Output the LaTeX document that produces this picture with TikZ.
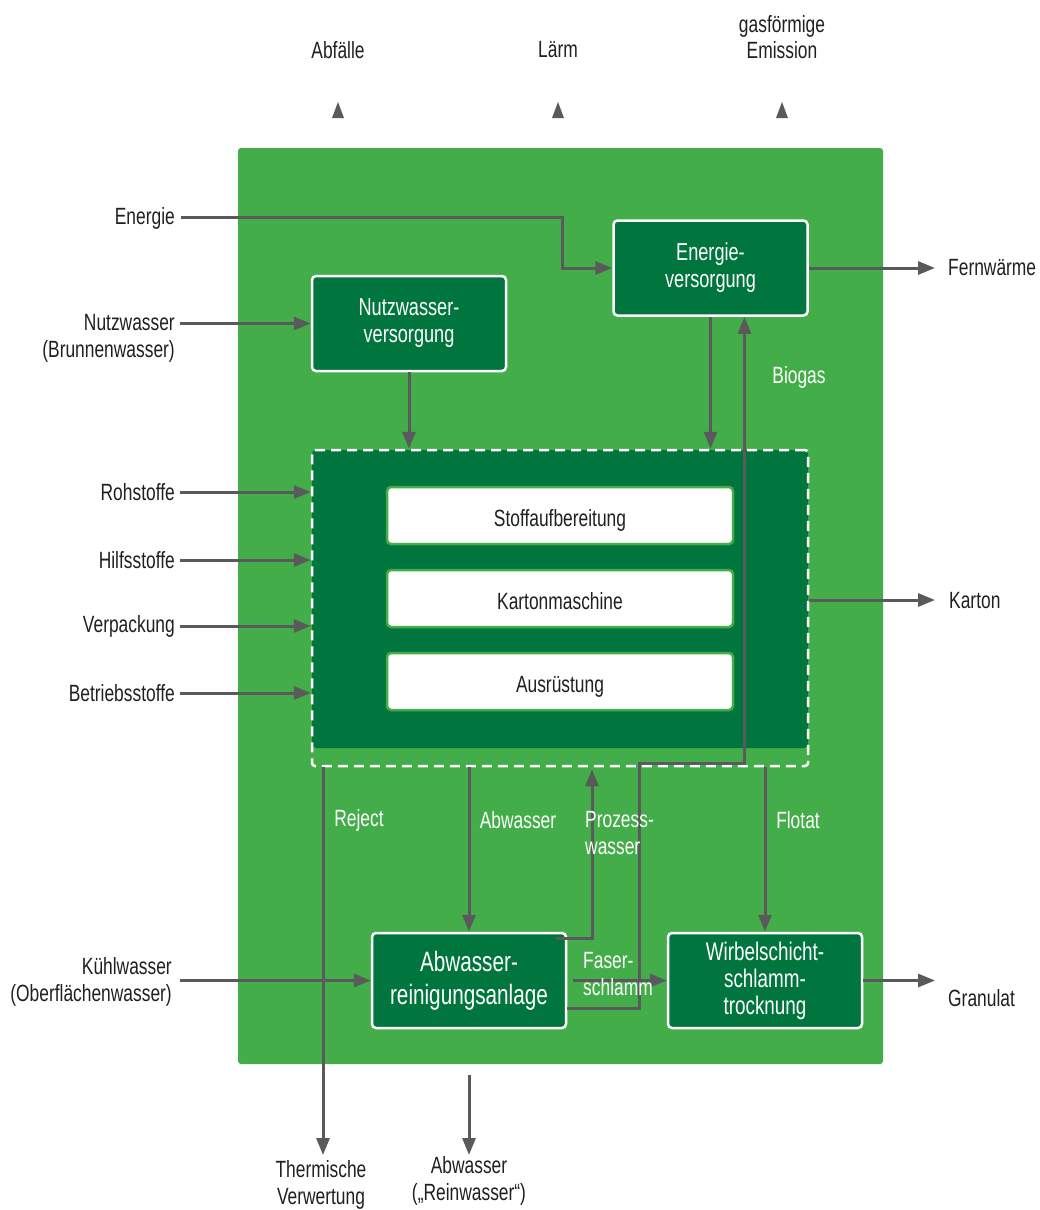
\documentclass[tikz,border=0pt]{standalone}
\usepackage{fontspec}
\setmainfont{Liberation Sans}[FakeStretch=0.74]
\usetikzlibrary{arrows.meta,calc}
\definecolor{lightg}{HTML}{43AD4A}
\definecolor{darkg}{HTML}{00763E}
\definecolor{lgray}{HTML}{5A5A5C}
\definecolor{txt}{HTML}{231F20}
\begin{document}
\begin{tikzpicture}[x=1pt,y=-1pt,
  lbl/.style={text=txt, font=\fontsize{23.5}{27}\selectfont, inner sep=0pt, align=center},
  wlbl/.style={lbl, text=white},
  box/.style={draw=white, line width=2.5pt, fill=darkg, rounded corners=4pt, minimum width=194pt, minimum height=95pt, text=white, align=center, inner sep=0pt},
  sub/.style={draw=lightg, line width=2.5pt, fill=white, rounded corners=4pt, minimum width=346pt, minimum height=57pt, text=txt, font=\fontsize{23.5}{27}\selectfont, inner sep=0pt, text height=22pt, text depth=0pt},
  arr/.style={draw=lgray, line width=3pt, -{Triangle[length=17pt,width=13pt]}},
  tipmark/.style={fill=lgray},
]
\fill[white] (0,0) rectangle (1039,1210);
\useasboundingbox (0,0) rectangle (1039,1210);

% plant area
\node[fill=lightg, rounded corners=3pt, minimum width=645pt, minimum height=916pt, inner sep=0pt] (plant) at (560.5,606) {};

% process block
\node[fill=darkg, rounded corners=4pt, minimum width=496pt, minimum height=298pt, inner sep=0pt] (proc) at (560,599) {};
\node[draw=white, line width=2.5pt, dash pattern=on 10pt off 6pt, rounded corners=3pt, minimum width=496pt, minimum height=316pt, inner sep=0pt] (procd) at (560,608) {};
\node[sub] (stoff) at (560,515.5) {Stoffaufbereitung};
\node[sub] (karton) at (560,598.5) {Kartonmaschine};
\node[sub] (ausr) at (560,681.5) {Ausrüstung};

% main boxes
\node[box, font=\fontsize{24.5}{27}\selectfont] (nutz) at (409,323.5) {Nutzwasser-\\versorgung};
\node[box, font=\fontsize{24.5}{27}\selectfont] (energ) at (710.5,268) {Energie-\\versorgung};
\node[box, font=\fontsize{28}{33}\selectfont] (ara) at (469,980.5) {Abwasser-\\reinigungsanlage};
\node[box, font=\fontsize{25.5}{27}\selectfont] (wirb) at (765,980.5) {Wirbelschicht-\\schlamm-\\trocknung};

% top outputs
\node[lbl] (lAbf) at (338,50) {Abfälle};
\node[lbl] (lLaerm) at (558,50) {Lärm};
\node[lbl, font=\fontsize{23.5}{26}\selectfont] (lGas) at (782,37) {gasförmige\\Emission};
\fill[tipmark] (332,118) -- (344,118) -- (338,102) -- cycle;
\fill[tipmark] (552,118) -- (564,118) -- (558,102) -- cycle;
\fill[tipmark] (776,118) -- (788,118) -- (782,102) -- cycle;

% left inputs
\node[lbl, anchor=east] (lEnergie) at (175,218) {Energie};
\node[lbl, anchor=east, align=right] (lNutz) at (175,338) {Nutzwasser\\(Brunnenwasser)};
\node[lbl, anchor=east] (lRoh) at (175,492) {Rohstoffe};
\node[lbl, anchor=east] (lHilf) at (175,560) {Hilfsstoffe};
\node[lbl, anchor=east] (lVerp) at (175,626) {Verpackung};
\node[lbl, anchor=east] (lBetr) at (175,693) {Betriebsstoffe};
\node[lbl, anchor=east, align=right] (lKuehl) at (172,982) {Kühlwasser\\(Oberflächenwasser)};

\coordinate (inNutz) at (180,323.5);
\coordinate (inKuehl) at (180,980.5);
\coordinate (eBend) at (562,242);

\draw[arr] ([xshift=6pt]lEnergie.east |- 0,217) -| (eBend) |- (energ.west);
\draw[arr] (inNutz) -- (nutz.west);
\draw[arr] ([xshift=5pt]lRoh.east) -- (procd.west |- lRoh.east);
\draw[arr] ([xshift=5pt]lHilf.east) -- (procd.west |- lHilf.east);
\draw[arr] ([xshift=5pt]lVerp.east) -- (procd.west |- lVerp.east);
\draw[arr] ([xshift=5pt]lBetr.east) -- (procd.west |- lBetr.east);
\draw[arr] (inKuehl) -- (ara.west);

% right outputs
\node[lbl, anchor=west] (lFern) at (948,268) {Fernwärme};
\node[lbl, anchor=west] (lKarton) at (949,601) {Karton};
\node[lbl, anchor=west] (lGran) at (948,998) {Granulat};
\coordinate (oFern) at (935,268);
\coordinate (oKarton) at (935,600);
\coordinate (oGran) at (935,980.5);
\draw[arr] (energ.east) -- (oFern);
\draw[arr] (procd.east |- oKarton) -- (oKarton);
\draw[arr] (wirb.east) -- (oGran);

% internal flows
\draw[arr] (nutz.south) -- (nutz.south |- procd.north);
\draw[arr] (energ.south) -- (energ.south |- procd.north);
\draw[arr] ($(ara.east)+(0,28)$) -| (639,763) -| ($(energ.south)+(34,0)$);
\draw[arr] ($(ara.north east)+(-11,7)$) -| ($(procd.south)+(32,2)$);
\draw[arr] (procd.south -| ara.north) -- (ara.north);
\draw[arr] (procd.south -| wirb.north) -- (wirb.north);
\draw[arr] ($(ara.east)+(6,0)$) -- (wirb.west);

% bottom outputs
\coordinate (oReject) at (323,1155);
\draw[arr] ($(procd.south)+(-237,0)$) -- (oReject);
\coordinate (rwA) at (469,1075);
\coordinate (rwB) at (469,1155);
\draw[arr] (rwA) -- (rwB);
\node[lbl] (lTherm) at (321,1185) {Thermische\\Verwertung};
\node[lbl] (lRein) at (469,1181) {Abwasser\\(„Reinwasser“)};

% white labels
\node[wlbl] (lBiogas) at (799,377) {Biogas};
\node[wlbl] (lReject) at (359,820) {Reject};
\node[wlbl] (lAbw) at (518,820) {Abwasser};
\node[wlbl, anchor=west, align=left] (lProz) at (585,833) {Prozess-\\wasser};
\node[wlbl] (lFlotat) at (798,820) {Flotat};
\node[wlbl, anchor=west, align=left] (lFaser) at (583,974) {Faser-\\schlamm};
\end{tikzpicture}
\end{document}
